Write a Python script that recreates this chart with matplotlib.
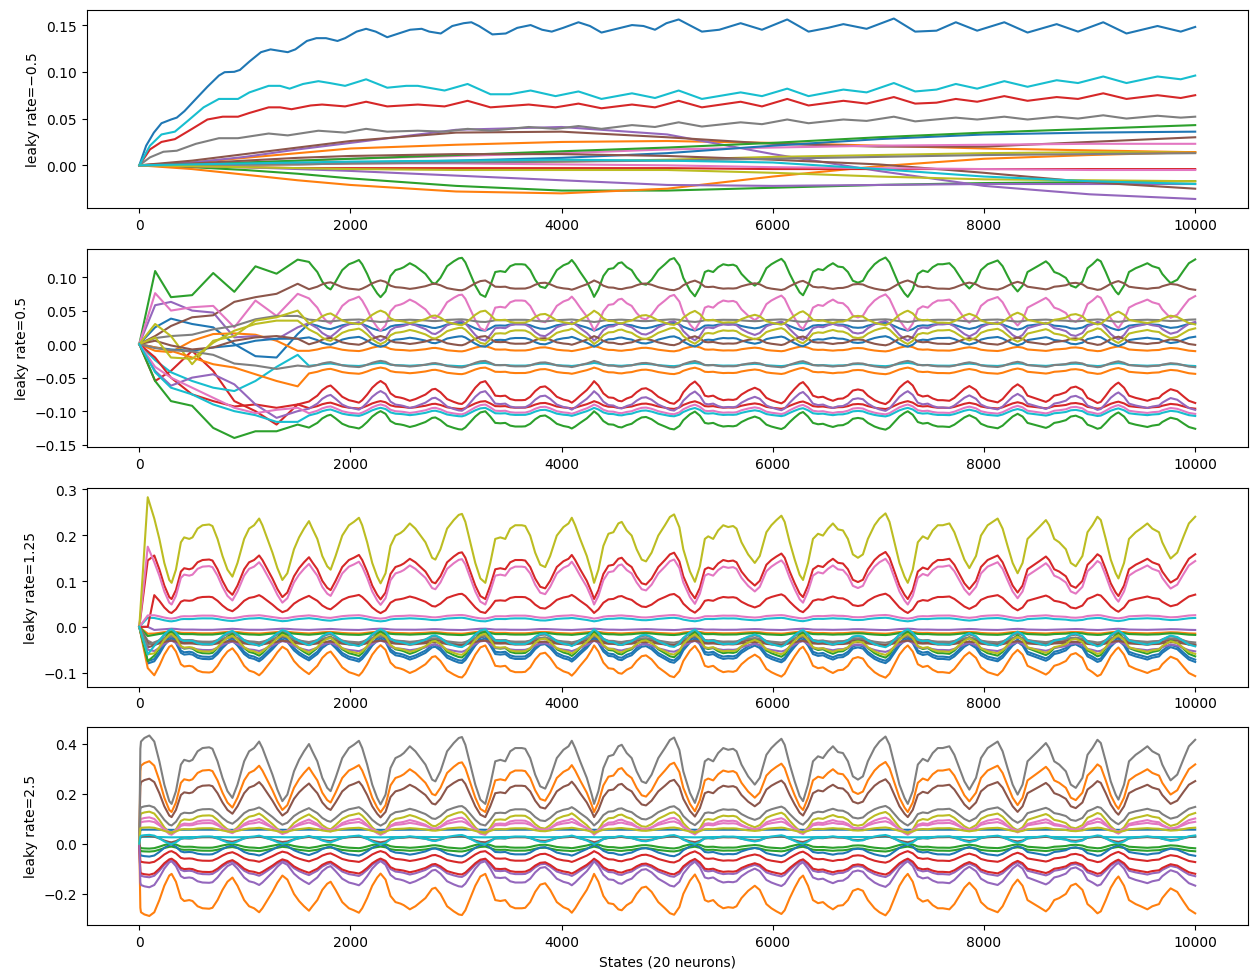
import numpy as np
import matplotlib
matplotlib.use("Agg")
import matplotlib.pyplot as plt

WAVE_X = [10, 16, 48, 95, 142, 190, 237, 284, 306, 347, 394, 425, 473, 504, 552, 599, 662, 693,
          741, 788, 835, 882, 930, 993, 1040, 1087, 1135, 1166, 1213, 1261, 1308, 1355, 1402,
          1465, 1513, 1560, 1607, 1639, 1686, 1733, 1780, 1812, 1859, 1922, 1985, 2032, 2080,
          2111, 2158, 2206, 2253, 2285, 2332, 2379, 2426, 2474, 2505, 2562, 2615, 2663, 2710,
          2773, 2804, 2852, 2915, 2978, 3025, 3056, 3088, 3135, 3182, 3230, 3277, 3324, 3371,
          3419, 3466, 3513, 3560, 3623, 3655, 3702, 3749, 3797, 3844, 3891, 3954, 4017, 4065,
          4096, 4128, 4175, 4238, 4285, 4307, 4348, 4395, 4443, 4490, 4537, 4569, 4616, 4663,
          4710, 4758, 4799, 4852, 4915, 4978, 5025, 5065, 5115, 5152, 5215, 5262, 5309, 5356,
          5388, 5435, 5482, 5530, 5577, 5624, 5656, 5703, 5766, 5829, 5876, 5939, 5986, 6034,
          6081, 6112, 6160, 6207, 6254, 6286, 6333, 6380, 6428, 6475, 6522, 6569, 6617, 6664,
          6711, 6758, 6806, 6853, 6900, 6963, 7010, 7067, 7105, 7152, 7199, 7247, 7278, 7325,
          7373, 7420, 7467, 7514, 7562, 7609, 7672, 7719, 7767, 7814, 7861, 7924, 7971, 8034,
          8082, 8129, 8176, 8223, 8271, 8318, 8365, 8412, 8475, 8523, 8586, 8617, 8665, 8712,
          8775, 8822, 8869, 8932, 8980, 9027, 9074, 9106, 9153, 9200, 9247, 9273, 9326, 9373,
          9436, 9484, 9547, 9594, 9657, 9688, 9736, 9767, 9830, 9893, 9940, 10000]
WAVE_Y = [0.380, 0.409, 0.423, 0.433, 0.409, 0.330, 0.237, 0.171, 0.160, 0.211, 0.317, 0.336,
          0.330, 0.336, 0.370, 0.383, 0.386, 0.380, 0.330, 0.264, 0.211, 0.184, 0.237, 0.330,
          0.370, 0.383, 0.409, 0.383, 0.330, 0.277, 0.217, 0.171, 0.197, 0.290, 0.336, 0.370,
          0.399, 0.370, 0.330, 0.264, 0.224, 0.211, 0.264, 0.343, 0.383, 0.396, 0.412, 0.383,
          0.317, 0.237, 0.184, 0.158, 0.197, 0.303, 0.343, 0.353, 0.363, 0.390, 0.370, 0.343,
          0.317, 0.257, 0.250, 0.290, 0.370, 0.403, 0.423, 0.427, 0.396, 0.317, 0.237, 0.177,
          0.160, 0.237, 0.330, 0.336, 0.330, 0.370, 0.383, 0.383, 0.380, 0.343, 0.277, 0.230,
          0.221, 0.264, 0.343, 0.376, 0.390, 0.412, 0.383, 0.330, 0.264, 0.197, 0.160, 0.211,
          0.303, 0.350, 0.356, 0.390, 0.396, 0.363, 0.343, 0.290, 0.250, 0.243, 0.277, 0.343,
          0.383, 0.415, 0.425, 0.375, 0.290, 0.204, 0.164, 0.224, 0.330, 0.340, 0.330, 0.363,
          0.383, 0.376, 0.380, 0.370, 0.317, 0.270, 0.237, 0.264, 0.356, 0.383, 0.403, 0.420,
          0.396, 0.317, 0.250, 0.191, 0.171, 0.237, 0.330, 0.350, 0.343, 0.370, 0.390, 0.367,
          0.363, 0.330, 0.270, 0.257, 0.270, 0.330, 0.383, 0.409, 0.429, 0.396, 0.317, 0.237,
          0.184, 0.160, 0.211, 0.317, 0.340, 0.330, 0.363, 0.383, 0.383, 0.390, 0.356, 0.303,
          0.250, 0.217, 0.264, 0.343, 0.383, 0.396, 0.409, 0.370, 0.303, 0.237, 0.197, 0.237,
          0.330, 0.356, 0.376, 0.403, 0.383, 0.330, 0.317, 0.290, 0.237, 0.224, 0.264, 0.356,
          0.383, 0.416, 0.403, 0.330, 0.250, 0.197, 0.177, 0.237, 0.330, 0.356, 0.370, 0.390,
          0.370, 0.356, 0.317, 0.277, 0.254, 0.277, 0.343, 0.390, 0.416]

# ---- panel 1 (leaky rate -0.5): slow neurons
P1_X = [0, 500, 1000, 1500, 2000, 3000, 4000, 5000, 6000, 7000, 8000, 9000, 10000]
P1_SMOOTH = {
    1: [0, 0.003, 0.008, 0.013, 0.018, 0.022, 0.025, 0.026, 0.024, 0.021, 0.018, 0.016, 0.014],
    2: [0, -0.002, -0.005, -0.009, -0.014, -0.022, -0.027, -0.027, -0.024, -0.021, -0.019, -0.018, -0.017],
    4: [0, 0.003, 0.009, 0.017, 0.024, 0.038, 0.041, 0.033, 0.012, -0.006, -0.022, -0.031, -0.036],
    5: [0, 0.005, 0.012, 0.019, 0.026, 0.035, 0.036, 0.030, 0.023, 0.020, 0.020, 0.025, 0.030],
    6: [0, 0.001, 0.003, 0.005, 0.007, 0.010, 0.013, 0.017, 0.019, 0.021, 0.022, 0.023, 0.023],
    8: [0, 0.0, 0.0, 0.001, 0.002, 0.003, 0.004, 0.006, 0.009, 0.011, 0.013, 0.014, 0.014],
    10: [0, 0.0, 0.001, 0.002, 0.003, 0.005, 0.008, 0.013, 0.021, 0.028, 0.033, 0.035, 0.036],
    11: [0, -0.004, -0.010, -0.016, -0.021, -0.028, -0.030, -0.025, -0.012, -0.001, 0.007, 0.011, 0.014],
    12: [0, 0.001, 0.003, 0.005, 0.007, 0.011, 0.015, 0.019, 0.024, 0.030, 0.035, 0.039, 0.043],
    13: [0, -0.001, -0.002, -0.003, -0.003, -0.003, -0.003, -0.003, -0.004, -0.004, -0.004, -0.004, -0.004],
    14: [0, -0.001, -0.002, -0.004, -0.006, -0.011, -0.016, -0.021, -0.022, -0.021, -0.020, -0.020, -0.020],
    15: [0, 0.002, 0.005, 0.008, 0.010, 0.012, 0.012, 0.010, 0.006, 0.001, -0.008, -0.018, -0.025],
    16: [0, 0.0, 0.001, 0.001, 0.002, 0.002, 0.001, 0.0, -0.002, -0.003, -0.004, -0.005, -0.005],
    17: [0, 0.0, 0.001, 0.001, 0.002, 0.003, 0.004, 0.005, 0.007, 0.009, 0.011, 0.012, 0.013],
    18: [0, -0.001, -0.002, -0.003, -0.004, -0.005, -0.005, -0.005, -0.008, -0.012, -0.015, -0.016, -0.017],
    19: [0, 0.001, 0.002, 0.003, 0.004, 0.005, 0.006, 0.005, 0.003, -0.004, -0.012, -0.017, -0.020],
}

# wiggly neurons of panel 1, read point by point
P1_BLUE_X = [0, 65, 138, 210, 301, 355, 428, 536, 645, 754, 808, 899, 953, 1043, 1152, 1243, 1297,
             1406, 1478, 1587, 1677, 1768, 1877, 1949, 2058, 2148, 2239, 2348, 2456, 2565, 2674,
             2746, 2855, 2964, 3072, 3145, 3217, 3344, 3471, 3579, 3706, 3815, 3906, 4014, 4159,
             4268, 4377, 4485, 4666, 4775, 4884, 4992, 5108, 5328, 5493, 5695, 5897, 6136, 6338,
             6521, 6668, 6888, 7146, 7348, 7550, 7733, 7935, 8192, 8412, 8688, 8890, 9129, 9349,
             9643, 9863, 10000]
P1_BLUE_Y = [0, 0.021, 0.035, 0.045, 0.049, 0.051, 0.058, 0.071, 0.084, 0.096, 0.0996, 0.100, 0.102,
             0.111, 0.121, 0.124, 0.123, 0.121, 0.124, 0.133, 0.136, 0.136, 0.133, 0.136, 0.143,
             0.146, 0.143, 0.137, 0.141, 0.145, 0.146, 0.143, 0.141, 0.149, 0.152, 0.153, 0.149,
             0.140, 0.141, 0.147, 0.150, 0.145, 0.143, 0.147, 0.153, 0.149, 0.142, 0.145, 0.150,
             0.149, 0.145, 0.152, 0.156, 0.143, 0.145, 0.152, 0.145, 0.156, 0.143, 0.147, 0.151,
             0.146, 0.157, 0.143, 0.144, 0.153, 0.144, 0.153, 0.142, 0.151, 0.143, 0.153, 0.141,
             0.149, 0.143, 0.148]
P1_CYAN_X = [0, 101, 210, 337, 464, 609, 754, 935, 1043, 1225, 1333, 1424, 1551, 1696, 1804, 1949,
             2148, 2348, 2529, 2638, 2891, 3109, 3326, 3507, 3706, 3942, 4159, 4377, 4666, 4884,
             5108, 5328, 5695, 5897, 6136, 6338, 6668, 6888, 7146, 7348, 7550, 7733, 7935, 8192,
             8412, 8688, 8890, 9129, 9349, 9643, 9863, 10000]
P1_CYAN_Y = [0, 0.021, 0.033, 0.036, 0.048, 0.062, 0.071, 0.071, 0.078, 0.085, 0.085, 0.082, 0.087,
             0.090, 0.088, 0.085, 0.092, 0.083, 0.085, 0.085, 0.080, 0.087, 0.076, 0.076, 0.080,
             0.074, 0.079, 0.071, 0.077, 0.072, 0.080, 0.071, 0.078, 0.074, 0.082, 0.074, 0.081,
             0.078, 0.088, 0.079, 0.081, 0.087, 0.082, 0.090, 0.084, 0.091, 0.088, 0.095, 0.088,
             0.095, 0.092, 0.096]
P1_RED_X = [0, 101, 210, 337, 500, 645, 790, 935, 1043, 1225, 1333, 1442, 1623, 1731, 1949, 2148,
            2348, 2638, 2891, 3109, 3326, 3688, 3942, 4159, 4377, 4666, 4884, 5108, 5328, 5695,
            5897, 6136, 6338, 6668, 6888, 7146, 7348, 7550, 7733, 7935, 8192, 8412, 8688, 8890,
            9129, 9349, 9643, 9863, 10000]
P1_RED_Y = [0, 0.017, 0.025, 0.028, 0.039, 0.049, 0.052, 0.052, 0.056, 0.062, 0.062, 0.060, 0.064,
            0.065, 0.063, 0.068, 0.063, 0.065, 0.063, 0.069, 0.062, 0.065, 0.062, 0.066, 0.061,
            0.065, 0.062, 0.069, 0.062, 0.068, 0.063, 0.071, 0.064, 0.069, 0.066, 0.073, 0.066,
            0.067, 0.071, 0.068, 0.074, 0.069, 0.073, 0.071, 0.077, 0.071, 0.075, 0.072, 0.075]
P1_GRAY_X = [0, 101, 228, 355, 536, 754, 935, 1225, 1406, 1696, 1949, 2148, 2348, 2638, 2891, 3109,
             3326, 3688, 3942, 4159, 4377, 4666, 4884, 5108, 5328, 5695, 5897, 6136, 6338, 6668,
             6888, 7146, 7348, 7733, 7935, 8192, 8412, 8688, 8890, 9129, 9349, 9643, 9863, 10000]
P1_GRAY_Y = [0, 0.0085, 0.0145, 0.0156, 0.023, 0.029, 0.029, 0.034, 0.032, 0.037, 0.035, 0.039,
             0.036, 0.037, 0.036, 0.039, 0.037, 0.041, 0.039, 0.042, 0.039, 0.043, 0.041, 0.046,
             0.0415, 0.046, 0.044, 0.049, 0.045, 0.049, 0.0475, 0.052, 0.047, 0.051, 0.049, 0.052,
             0.049, 0.052, 0.050, 0.0535, 0.050, 0.053, 0.051, 0.052]

# ---- panel 2 (leaky rate 0.5): early transient, then settled swing
P2_T = [0, 150, 300, 500, 700, 900, 1100, 1300, 1500]
P2_EARLY = [
    [0, 0.025, 0.038, 0.030, 0.025, 0.000, -0.018, -0.020, 0.015],
    [0, -0.010, -0.012, 0.005, 0.015, 0.016, 0.014, 0.005, -0.010],
    [0, 0.109, 0.070, 0.073, 0.106, 0.078, 0.116, 0.105, 0.126],
    [0, -0.055, -0.040, -0.010, -0.040, -0.085, -0.100, -0.120, -0.090],
    [0, 0.058, 0.063, 0.050, 0.047, 0.010, 0.012, 0.007, 0.025],
    [0, 0.012, 0.027, 0.040, 0.043, 0.063, 0.070, 0.075, 0.090],
    [0, 0.076, 0.050, 0.055, 0.057, 0.025, 0.065, 0.042, 0.075],
    [0, 0.009, 0.012, 0.014, 0.022, 0.027, 0.037, 0.042, 0.042],
    [0, 0.030, 0.012, -0.030, 0.005, 0.012, 0.035, 0.040, 0.050],
    [0, -0.024, -0.042, -0.055, -0.065, -0.070, -0.055, -0.034, -0.016],
    [0, -0.005, -0.008, -0.010, -0.005, -0.002, 0.005, 0.008, 0.008],
    [0, -0.005, -0.010, -0.020, -0.030, -0.035, -0.045, -0.055, -0.063],
    [0, -0.055, -0.085, -0.092, -0.125, -0.140, -0.130, -0.130, -0.120],
    [0, -0.020, -0.050, -0.075, -0.085, -0.093, -0.090, -0.095, -0.090],
    [0, -0.040, -0.062, -0.050, -0.045, -0.060, -0.090, -0.110, -0.100],
    [0, 0.005, -0.002, -0.008, -0.005, 0.005, 0.010, 0.012, 0.008],
    [0, -0.034, -0.050, -0.065, -0.080, -0.095, -0.103, -0.098, -0.095],
    [0, -0.006, -0.009, -0.011, -0.016, -0.029, -0.032, -0.037, -0.032],
    [0, 0.010, -0.020, -0.022, 0.002, 0.020, 0.030, 0.035, 0.035],
    [0, -0.042, -0.065, -0.075, -0.090, -0.100, -0.106, -0.116, -0.116],
]
# value of each neuron at the pattern's low and high points
P2_LO = [0.020, -0.003, 0.070, -0.055, 0.005, 0.095, 0.020, 0.033, 0.050, -0.028,
         -0.004, -0.035, -0.100, -0.085, -0.070, 0.012, -0.090, -0.025, 0.000, -0.095]
P2_HI = [0.032, -0.011, 0.130, -0.090, 0.035, 0.080, 0.075, 0.037, 0.028, -0.033,
         0.012, -0.045, -0.128, -0.097, -0.100, -0.002, -0.105, -0.035, 0.025, -0.108]

# ---- panel 3 (leaky rate 1.25): first spike, then settled swing
P3_T = [0, 80]
P3_EARLY = [-0.075, -0.015, -0.020, 0.145, 0.000, -0.045, 0.175, -0.030, 0.283, 0.020,
            -0.080, -0.090, -0.075, 0.000, -0.050, -0.035, 0.025, -0.040, -0.060, -0.060]
P3_LO = [-0.020, -0.010, -0.012, 0.060, -0.004, -0.020, 0.048, -0.010, 0.095, 0.012,
         -0.025, -0.040, -0.010, 0.030, -0.030, -0.030, 0.018, -0.020, -0.015, -0.005]
P3_HI = [-0.075, -0.015, -0.018, 0.165, -0.007, -0.042, 0.150, -0.040, 0.250, 0.020,
         -0.080, -0.112, -0.068, 0.073, -0.055, -0.040, 0.026, -0.035, -0.062, -0.045]

# ---- panel 4 (leaky rate 2.5)
P4_LO = [0.055, 0.125, -0.012, -0.030, -0.065, 0.105, 0.035, 0.157, 0.040, 0.025,
         -0.003, -0.120, 0.000, -0.060, -0.070, 0.005, 0.045, 0.072, 0.045, -0.002]
P4_HI = [0.056, 0.330, -0.032, -0.077, -0.135, 0.260, 0.105, 0.433, 0.128, 0.027,
         -0.052, -0.290, -0.020, -0.125, -0.175, 0.030, 0.090, 0.152, 0.065, 0.035]

LABELS = ["leaky rate=\u22120.5", "leaky rate=0.5", "leaky rate=1.25", "leaky rate=2.5"]

wx = np.array(WAVE_X, dtype=float)
wy = np.array(WAVE_Y)
w = (wy - wy.min()) / (wy.max() - wy.min())


def swing(lo, hi, start):
    keep = wx >= start
    return wx[keep], lo + (hi - lo) * w[keep]


fig = plt.figure(figsize=(12.58, 9.79), dpi=100)
left, width, height = 86.5 / 1258, (1248 - 86.5) / 1258, 198.5 / 979
bottoms = [1 - 209 / 979, 1 - 448 / 979, 1 - 687.7 / 979, 1 - 926 / 979]
axes = [fig.add_axes([left, b, width, height]) for b in bottoms]

# panel 1
ax = axes[0]
wiggly = {0: (P1_BLUE_X, P1_BLUE_Y), 3: (P1_RED_X, P1_RED_Y),
          7: (P1_GRAY_X, P1_GRAY_Y), 9: (P1_CYAN_X, P1_CYAN_Y)}
for i in range(20):
    if i in wiggly:
        x, y = wiggly[i]
    else:
        x, y = P1_X, P1_SMOOTH[i]
    ax.plot(x, y, color=f"C{i % 10}")

# panel 2
ax = axes[1]
for i in range(20):
    sx, sy = swing(P2_LO[i], P2_HI[i], 1600)
    ax.plot(np.concatenate([P2_T, sx]), np.concatenate([P2_EARLY[i], sy]), color=f"C{i % 10}")

# panel 3
ax = axes[2]
for i in range(20):
    sx, sy = swing(P3_LO[i], P3_HI[i], 140)
    ax.plot(np.concatenate([P3_T, sx]), np.concatenate([[0, P3_EARLY[i]], sy]), color=f"C{i % 10}")

# panel 4
ax = axes[3]
for i in range(20):
    sx, sy = swing(P4_LO[i], P4_HI[i], 10)
    ax.plot(np.concatenate([[0], sx]), np.concatenate([[0], sy]), color=f"C{i % 10}")

for ax, lab in zip(axes, LABELS):
    ax.set_ylabel(lab)
axes[-1].set_xlabel("States (20 neurons)")

fig.savefig("out.png", dpi=100)
